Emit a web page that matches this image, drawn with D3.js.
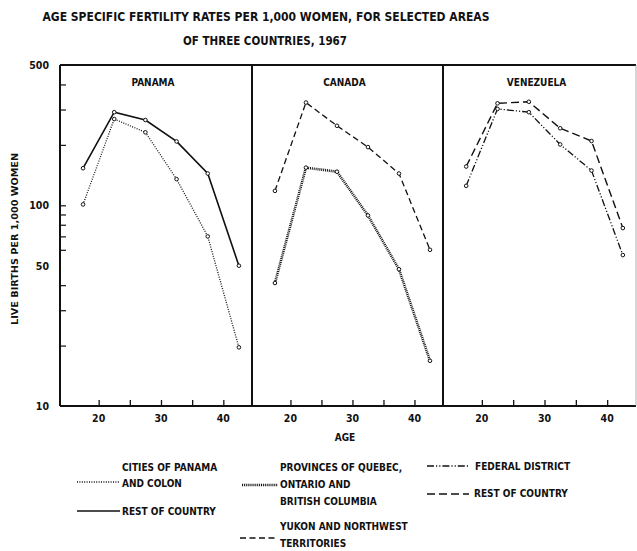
<!DOCTYPE html>
<html><head><meta charset="utf-8">
<script src="https://cdn.jsdelivr.net/npm/d3@7"></script>
<style>
body{margin:0;background:#fff;}
text{font-family:"DejaVu Sans Condensed","DejaVu Sans",sans-serif;font-weight:bold;fill:#111;}
</style></head>
<body><svg id="c" width="637" height="551"></svg>
<script>
const ages = [17.5, 22.5, 27.5, 32.5, 37.5, 42.5];
const panamaCities = [101, 269, 231, 135, 70, 19.6];
const panamaRest = [153, 291, 266, 208, 144, 50];
const canadaProvinces = [41, 154, 147, 89, 48, 16.8];
const canadaYukon = [118, 325, 249, 195, 144, 60];
const venezuelaFederal = [125, 302, 291, 201, 149, 56.5];
const venezuelaRest = [156, 322, 328, 242, 209, 77];
const yLabelTicks = [10, 50, 100, 500];
const yMinorTicks = [20, 30, 40, 60, 70, 80, 90, 200, 300, 400];
const xTicks = [20, 25, 30, 35, 40];
const xLabelTicks = [20, 30, 40];
const panelNames = ["PANAMA", "CANADA", "VENEZUELA"];

const styles = {
  cities: {dash: "1,1.4", width: 1.3},
  rest: {dash: null, width: 1.6},
  provinces: {dash: "1,0.9", width: 2.6},
  yukon: {dash: "6,3.5", width: 1.3},
  federal: {dash: "7,2,1.2,2,1.2,2", width: 1.3},
  vrest: {dash: "8,4", width: 1.4}
};

const panels = [
  {name: panelNames[0], x0: 60, x1: 252, series: [{v: panamaCities, s: "cities"}, {v: panamaRest, s: "rest"}]},
  {name: panelNames[1], x0: 252, x1: 443, series: [{v: canadaProvinces, s: "provinces"}, {v: canadaYukon, s: "yukon"}]},
  {name: panelNames[2], x0: 443, x1: 636, series: [{v: venezuelaFederal, s: "federal"}, {v: venezuelaRest, s: "vrest"}]}
];

const svg = d3.select("#c");
const plotTop = 65, plotBottom = 406;
const y = d3.scaleLog().domain([10, 500]).range([plotBottom, plotTop]);

svg.append("text").attr("x", 266).attr("y", 21).attr("text-anchor", "middle")
  .attr("font-size", 11.5).attr("textLength", 447).attr("lengthAdjust", "spacingAndGlyphs")
  .text("AGE SPECIFIC FERTILITY RATES PER 1,000 WOMEN, FOR SELECTED AREAS");
svg.append("text").attr("x", 265).attr("y", 45).attr("text-anchor", "middle")
  .attr("font-size", 11.5).attr("textLength", 164).attr("lengthAdjust", "spacingAndGlyphs")
  .text("OF THREE COUNTRIES, 1967");

panels.forEach((p, i) => {
  const x = d3.scaleLinear().domain([13.8, 44.6]).range([p.x0, p.x1]);
  const g = svg.append("g");
  const xa = g.append("g").attr("transform", `translate(0,${plotBottom})`)
    .call(d3.axisTop(x).tickValues(xTicks).tickSize(6).tickFormat(""));
  xa.select(".domain").remove();
  xa.selectAll("line").attr("stroke", "#111").attr("stroke-width", 1.3);
  g.selectAll(".xl").data(xLabelTicks).enter().append("text")
    .attr("x", d => x(d)).attr("y", 422).attr("text-anchor", "middle")
    .attr("font-size", 10.5).text(d => d);
  g.append("text").attr("x", (p.x0 + p.x1) / 2 - 3).attr("y", 86).attr("text-anchor", "middle")
    .attr("font-size", 10).text(p.name);
  p.series.forEach(se => {
    const st = styles[se.s];
    const pts = ages.map((a, k) => [a, se.v[k]]);
    g.append("path").datum(pts)
      .attr("d", d3.line().x(d => x(d[0])).y(d => y(d[1])))
      .attr("fill", "none").attr("stroke", "#111")
      .attr("stroke-width", st.width)
      .attr("stroke-dasharray", st.dash);
    g.selectAll(null).data(pts).enter().append("circle")
      .attr("cx", d => x(d[0])).attr("cy", d => y(d[1])).attr("r", 1.8)
      .attr("fill", "#fff").attr("stroke", "#111").attr("stroke-width", 1);
  });
});

const fr = svg.append("g").attr("stroke", "#111").attr("fill", "none");
fr.append("line").attr("x1", 60).attr("x2", 636).attr("y1", plotTop).attr("y2", plotTop).attr("stroke-width", 2);
fr.append("line").attr("x1", 60).attr("x2", 636).attr("y1", plotBottom).attr("y2", plotBottom).attr("stroke-width", 2.2);
[60, 252, 443].forEach(xx => fr.append("line").attr("x1", xx).attr("x2", xx).attr("y1", plotTop).attr("y2", plotBottom).attr("stroke-width", 2));
fr.append("line").attr("x1", 636).attr("x2", 636).attr("y1", plotTop).attr("y2", plotBottom).attr("stroke-width", 0.8).attr("stroke", "#999");

const ya = svg.append("g").attr("transform", "translate(60,0)")
  .call(d3.axisRight(y).tickValues(yMinorTicks.concat([100])).tickSize(6).tickFormat(""));
ya.select(".domain").remove();
ya.selectAll("line").attr("stroke", "#111").attr("stroke-width", 1.2);
svg.selectAll(".yl").data(yLabelTicks).enter().append("text")
  .attr("x", 49).attr("y", d => y(d) + 4).attr("text-anchor", "end")
  .attr("font-size", 10.5).text(d => d);

svg.append("text").attr("transform", "translate(18,239) rotate(-90)").attr("text-anchor", "middle")
  .attr("font-size", 9).attr("textLength", 172).attr("lengthAdjust", "spacingAndGlyphs")
  .text("LIVE BIRTHS PER 1,000 WOMEN");
svg.append("text").attr("x", 345).attr("y", 441).attr("text-anchor", "middle")
  .attr("font-size", 10).text("AGE");

const legend = [
  {s: "cities", x0: 77, x1: 120, y: 482, tx: 122, lines: [["CITIES OF PANAMA", 471], ["AND COLON", 487]]},
  {s: "rest", x0: 77, x1: 120, y: 511, tx: 122, lines: [["REST OF COUNTRY", 515]]},
  {s: "provinces", x0: 242, x1: 278, y: 485, tx: 280, lines: [["PROVINCES OF QUEBEC,", 471], ["ONTARIO AND", 488], ["BRITISH COLUMBIA", 505]]},
  {s: "yukon", x0: 240, x1: 278, y: 538, tx: 280, lines: [["YUKON AND NORTHWEST", 530], ["TERRITORIES", 547]]},
  {s: "federal", x0: 427, x1: 469, y: 466, tx: 475, lines: [["FEDERAL DISTRICT", 470]]},
  {s: "vrest", x0: 427, x1: 469, y: 494, tx: 474, lines: [["REST OF COUNTRY", 497]]}
];
legend.forEach(l => {
  const st = styles[l.s];
  svg.append("line").attr("x1", l.x0).attr("x2", l.x1).attr("y1", l.y).attr("y2", l.y)
    .attr("stroke", "#111").attr("stroke-width", st.width).attr("stroke-dasharray", st.dash);
  l.lines.forEach(t => svg.append("text").attr("x", l.tx).attr("y", t[1]).attr("font-size", 10).text(t[0]));
});
</script></body></html>
